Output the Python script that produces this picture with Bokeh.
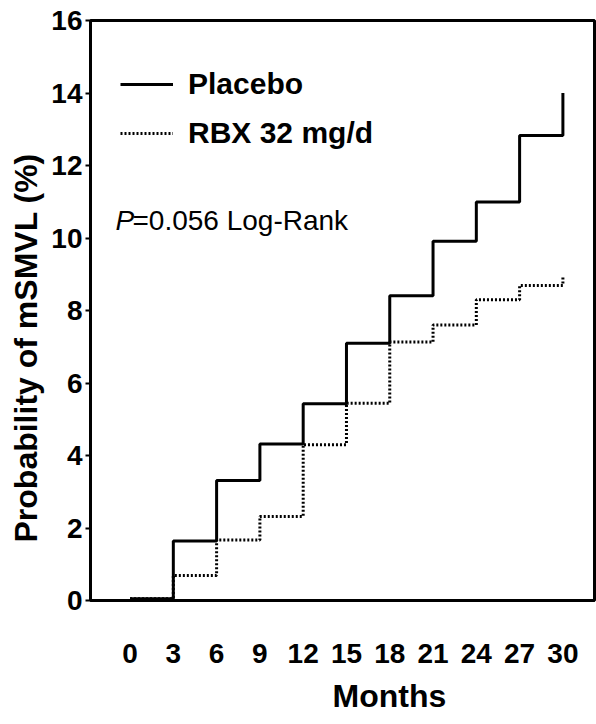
import math
from bokeh.plotting import figure
from bokeh.models import Range1d, FixedTicker, Label, Title
from bokeh.embed import file_html
from bokeh.resources import INLINE

# ---- data ----
months = [0, 3, 6, 9, 12, 15, 18, 21, 24, 27, 30]
placebo = [0.05, 1.64, 3.31, 4.32, 5.43, 7.10, 8.41, 9.91, 10.99, 12.83, 14.0]
rbx = [0.05, 0.69, 1.67, 2.32, 4.30, 5.44, 7.13, 7.60, 8.30, 8.69, 8.94]
y_ticks = [0, 2, 4, 6, 8, 10, 12, 14, 16]
x_ticks = [0, 3, 6, 9, 12, 15, 18, 21, 24, 27, 30]
series_labels = ["Placebo", "RBX 32 mg/d"]
x_title = "Months"
y_title = "Probability of mSMVL (%)"
p_italic = "P"
p_rest = "=0.056 Log-Rank"

FONT = "Liberation Sans"

p = figure(width=596, height=724,
           x_range=Range1d(-2.74, 32.19), y_range=Range1d(0, 16),
           output_backend="svg", toolbar_location=None,
           min_border_left=90, min_border_right=2,
           min_border_top=20, min_border_bottom=124)

p.background_fill_color = "white"
p.border_fill_color = "white"
p.grid.visible = False
p.outline_line_color = "black"
p.outline_line_width = 3

p.step(months, placebo, mode="after", line_color="black", line_width=3,
       legend_label=series_labels[0])
p.step(months, rbx, mode="after", line_color="black", line_width=3,
       line_dash="2 2", legend_label=series_labels[1])

# axes
for ax in (p.xaxis, p.yaxis):
    ax.axis_line_color = "black"
    ax.axis_line_width = 3
    ax.minor_tick_line_color = None
    ax.major_label_text_font = FONT
    ax.major_label_text_font_style = "bold"
    ax.major_label_text_color = "black"
    ax.major_label_text_font_size = "28px"

p.yaxis.ticker = FixedTicker(ticks=y_ticks)
p.yaxis.major_tick_out = 5
p.yaxis.major_tick_in = 0
p.yaxis.major_tick_line_width = 2
p.yaxis.major_tick_line_color = "black"
p.yaxis.major_label_standoff = 3

p.xaxis.ticker = FixedTicker(ticks=x_ticks)
p.xaxis.major_tick_line_color = None
p.xaxis.major_tick_out = 0
p.xaxis.major_tick_in = 0
p.xaxis.major_label_standoff = 43

# axis titles
p.add_layout(Title(text=y_title, align="left", offset=58,
                   text_font=FONT, text_font_size="32px",
                   text_font_style="bold", text_color="black"), "left")
p.add_layout(Title(text=x_title, align="left", offset=242,
                   vertical_align="bottom", standoff=20,
                   text_font=FONT, text_font_size="32px",
                   text_font_style="bold", text_color="black"), "below")

# legend
lg = p.legend[0]
lg.location = (30, 450)
lg.border_line_color = None
lg.background_fill_alpha = 0
lg.padding = 0
lg.margin = 0
lg.spacing = 15
lg.glyph_width = 53
lg.glyph_height = 34
lg.label_height = 34
lg.label_standoff = 15
lg.label_text_font = FONT
lg.label_text_font_size = "30px"
lg.label_text_font_style = "bold"
lg.label_text_color = "black"

# p-value text
p.add_layout(Label(x=25, y=380, x_units="screen", y_units="screen",
                   text=p_italic, text_font=FONT, text_font_size="28px",
                   text_font_style="italic", text_baseline="alphabetic",
                   text_color="black"))
p.add_layout(Label(x=42, y=380, x_units="screen", y_units="screen",
                   text=p_rest, text_font=FONT, text_font_size="28px",
                   text_baseline="alphabetic", text_color="black"))

open("out.html", "w").write(file_html(p, INLINE))
